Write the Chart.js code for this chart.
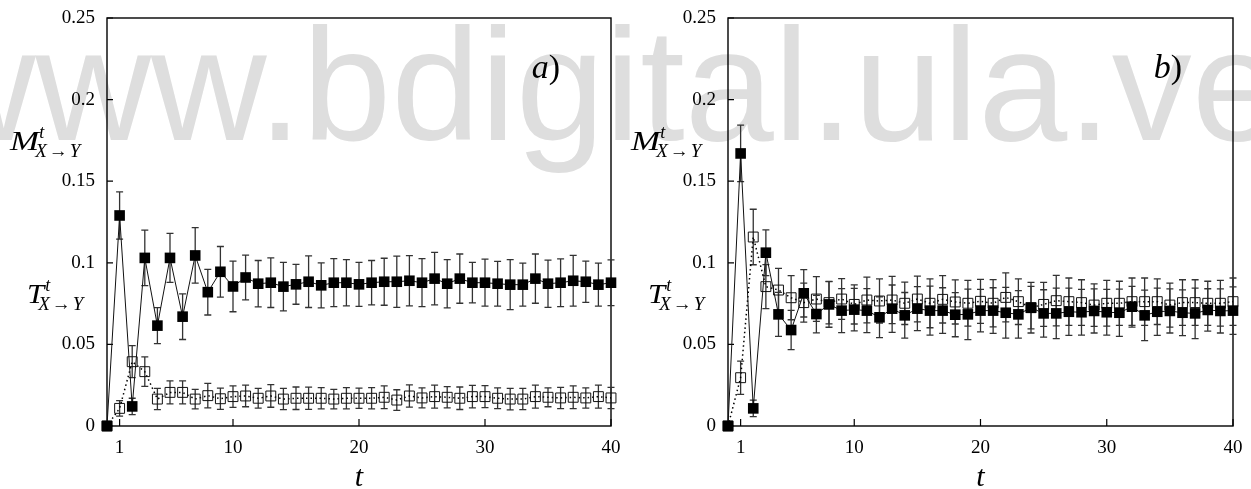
<!DOCTYPE html>
<html>
<head>
<meta charset="utf-8">
<script src="https://cdn.jsdelivr.net/npm/chart.js@4.4.1/dist/chart.umd.min.js"></script>
<style>
    body { margin: 0; background: #fff; }
    #wrap { position: relative; width: 1251px; height: 489px; overflow: hidden; }
    #mark {
        position: absolute; left: -80px; top: 5px;
        font: 160px/1 "Liberation Sans", Arial, sans-serif;
        color: #dedede; white-space: nowrap; z-index: 0;
    }
    canvas { position: absolute; top: 0; z-index: 1; }
    #chartA { left: 0; }
    #chartB { left: 625px; }
</style>
</head>
<body>
<div id="wrap">
    <div id="mark">www.bdigital.ula.ve</div>
    <canvas id="chartA" width="625" height="489"></canvas>
    <canvas id="chartB" width="626" height="489"></canvas>
</div>
<script>
// time steps t = 0..40
const timeSteps = Array.from({ length: 41 }, (_, i) => i);
const xTicks = [1, 10, 20, 30, 40];
const yTicks = [0, 0.05, 0.1, 0.15, 0.2, 0.25];

// panel a)
const mA = [0, 0.129, 0.012, 0.103, 0.0615, 0.103, 0.067, 0.1045, 0.082, 0.0945,
    0.0855, 0.091, 0.0872, 0.0878, 0.0854, 0.0868, 0.0884, 0.0862, 0.0878, 0.0878,
    0.0868, 0.0878, 0.0884, 0.0884, 0.089, 0.0878, 0.0903, 0.0872, 0.0903, 0.0878,
    0.0878, 0.0872, 0.0866, 0.0866, 0.0903, 0.0872, 0.0878, 0.089, 0.0884, 0.0866, 0.0878];
const mAErr = [0, 0.0145, 0.005, 0.017, 0.011, 0.015, 0.014, 0.017, 0.014, 0.0155,
    0.0155, 0.0137, 0.0142, 0.0152, 0.0148, 0.0122, 0.0158, 0.0138, 0.0147, 0.0142,
    0.0135, 0.0136, 0.0144, 0.0157, 0.0154, 0.0147, 0.0161, 0.0148, 0.0151, 0.0124,
    0.0144, 0.0137, 0.0153, 0.0132, 0.0151, 0.0145, 0.0146, 0.0155, 0.0126, 0.0132, 0.014];
const tA = [0, 0.0108, 0.0394, 0.0333, 0.0165, 0.0206, 0.0206, 0.0165, 0.0186, 0.0167,
    0.018, 0.0184, 0.017, 0.0184, 0.0165, 0.017, 0.017, 0.017, 0.0165, 0.017,
    0.017, 0.017, 0.0176, 0.0159, 0.0184, 0.0172, 0.018, 0.0176, 0.017, 0.018,
    0.018, 0.017, 0.0165, 0.0165, 0.018, 0.0176, 0.0172, 0.0176, 0.0172, 0.018, 0.0172];
const tAErr = [0, 0.0048, 0.0098, 0.009, 0.0065, 0.007, 0.007, 0.006, 0.0075, 0.0065,
    0.0066, 0.0066, 0.006, 0.0069, 0.0065, 0.0069, 0.0068, 0.0065, 0.006, 0.0065,
    0.0062, 0.0065, 0.007, 0.0063, 0.0068, 0.0061, 0.007, 0.0065, 0.0069, 0.0069,
    0.0068, 0.0063, 0.0066, 0.0065, 0.007, 0.0058, 0.0065, 0.007, 0.0062, 0.007, 0.0065];

// panel b)
const mB = [0, 0.167, 0.0108, 0.1062, 0.0684, 0.0588, 0.0813, 0.0686, 0.0745, 0.0707,
    0.0713, 0.0707, 0.0666, 0.0719, 0.0678, 0.0719, 0.0707, 0.0707, 0.0682, 0.0684,
    0.0707, 0.0707, 0.0694, 0.0684, 0.0725, 0.069, 0.069, 0.07, 0.0697, 0.0705,
    0.0697, 0.0694, 0.0731, 0.0678, 0.07, 0.0705, 0.0694, 0.069, 0.0711, 0.0705, 0.0707];
const mBErr = [0, 0.0173, 0.005, 0.014, 0.0135, 0.012, 0.0145, 0.0115, 0.014, 0.0135,
    0.013, 0.0135, 0.0125, 0.0145, 0.014, 0.0135, 0.015, 0.014, 0.0135, 0.0155,
    0.013, 0.014, 0.0155, 0.0145, 0.0155, 0.0145, 0.0155, 0.0145, 0.014, 0.0135,
    0.014, 0.0145, 0.0125, 0.0155, 0.0145, 0.0135, 0.014, 0.0155, 0.013, 0.0135, 0.0145];
const tB = [0, 0.0296, 0.1158, 0.0854, 0.0833, 0.0786, 0.0756, 0.0778, 0.0756, 0.0778,
    0.0745, 0.0772, 0.0766, 0.0772, 0.0752, 0.0778, 0.0752, 0.0776, 0.076, 0.0752,
    0.0764, 0.0752, 0.0788, 0.0762, 0.0725, 0.0745, 0.0768, 0.0762, 0.0756, 0.0741,
    0.0752, 0.0752, 0.0762, 0.0762, 0.0762, 0.0741, 0.0756, 0.0756, 0.0752, 0.0752, 0.0762];
const tBErr = [0, 0.0102, 0.017, 0.0135, 0.0133, 0.0135, 0.012, 0.0137, 0.013, 0.0125,
    0.012, 0.014, 0.0135, 0.0145, 0.013, 0.014, 0.015, 0.0145, 0.0135, 0.014,
    0.0135, 0.0145, 0.015, 0.014, 0.013, 0.0135, 0.0155, 0.0145, 0.014, 0.013,
    0.014, 0.0135, 0.0145, 0.0145, 0.014, 0.0135, 0.014, 0.014, 0.0135, 0.014, 0.0145];

const SERIF = '"Liberation Serif", "DejaVu Serif", serif';

function points(values) {
    return timeSteps.map((t, i) => ({ x: t, y: values[i] }));
}

// frame, inward ticks, error bars (under the markers)
const framePlugin = {
    id: 'frame',
    beforeDatasetsDraw(chart) {
        const ctx = chart.ctx;
        const a = chart.chartArea;
        const xs = chart.scales.x, ys = chart.scales.y;
        ctx.save();
        ctx.strokeStyle = '#000';
        ctx.lineWidth = 1.4;
        ctx.strokeRect(a.left, a.top, a.right - a.left, a.bottom - a.top);
        ctx.lineWidth = 1.2;
        ctx.beginPath();
        xTicks.forEach(v => {
            const px = xs.getPixelForValue(v);
            ctx.moveTo(px, a.bottom);
            ctx.lineTo(px, a.bottom - 7);
        });
        yTicks.forEach(v => {
            const py = ys.getPixelForValue(v);
            ctx.moveTo(a.left, py);
            ctx.lineTo(a.left + 6, py);
        });
        ctx.stroke();

        // error bars
        ctx.strokeStyle = '#333';
        ctx.lineWidth = 1.3;
        chart.data.datasets.forEach((ds, i) => {
            const meta = chart.getDatasetMeta(i);
            meta.data.forEach((pt, j) => {
                const e = ds.errors[j];
                if (!e) return;
                const v = ds.data[j].y;
                const top = ys.getPixelForValue(v + e);
                const bot = ys.getPixelForValue(v - e);
                ctx.beginPath();
                ctx.moveTo(pt.x, top);
                ctx.lineTo(pt.x, bot);
                ctx.moveTo(pt.x - 3.5, top);
                ctx.lineTo(pt.x + 3.5, top);
                ctx.moveTo(pt.x - 3.5, bot);
                ctx.lineTo(pt.x + 3.5, bot);
                ctx.stroke();
            });
        });
        ctx.restore();
    },
    afterDraw(chart, args, opts) {
        const ctx = chart.ctx;
        const a = chart.chartArea;
        ctx.save();
        ctx.fillStyle = '#000';
        ctx.textBaseline = 'alphabetic';

        // y labels: M^t_{X->Y} and T^t_{X->Y}
        opts.yLabels.forEach(lab => {
            const x = a.left + lab.dx;
            const base = lab.y;
            ctx.textAlign = 'left';
            ctx.save();
            ctx.translate(x, base);
            ctx.scale(lab.stretch, 1);
            ctx.font = 'italic 28px ' + SERIF;
            ctx.fillText(lab.letter, 0, 0);
            ctx.restore();
            ctx.font = 'italic 28px ' + SERIF;
            const w = ctx.measureText(lab.letter).width * lab.stretch;
            ctx.font = 'italic 18px ' + SERIF;
            ctx.fillText('t', x + w + lab.supDx, base - 12);
            let sx = x + w + lab.subDx;
            const sb = base + 7;
            ctx.font = 'italic 19px ' + SERIF;
            ctx.fillText('X', sx, sb);
            sx += ctx.measureText('X').width + 2;
            ctx.font = '19px ' + SERIF;
            ctx.fillText('\u2192', sx, sb);
            sx += ctx.measureText('\u2192').width + 2;
            ctx.font = 'italic 19px ' + SERIF;
            ctx.fillText('Y', sx, sb);
        });

        // panel label, e.g. a)
        ctx.textAlign = 'right';
        const rx = a.right - 51;
        ctx.font = '34px ' + SERIF;
        ctx.fillText(')', rx, 78);
        const pw = ctx.measureText(')').width;
        ctx.font = 'italic 34px ' + SERIF;
        ctx.fillText(opts.panel, rx - pw, 78);

        // x title
        ctx.textAlign = 'center';
        ctx.font = 'italic 30px ' + SERIF;
        ctx.fillText(opts.xTitle, (a.left + a.right) / 2, 486);
        ctx.restore();
    }
};

function makeChart(canvasId, mVals, mErr, tVals, tErr, panel, yWidth, padRight) {
    const ctx = document.getElementById(canvasId);
    return new Chart(ctx, {
        type: 'line',
        data: {
            datasets: [{
                label: 'M',
                data: points(mVals),
                errors: mErr,
                borderColor: '#111',
                borderWidth: 1,
                backgroundColor: '#000',
                pointStyle: 'rect',
                pointRadius: 7.5,
                pointBorderWidth: 0,
                pointBackgroundColor: '#000',
                clip: false,
                tension: 0
            }, {
                label: 'T',
                data: points(tVals),
                errors: tErr,
                borderColor: '#000',
                borderWidth: 1.5,
                borderDash: [1.5, 3],
                pointStyle: 'rect',
                pointRadius: 7,
                pointBorderWidth: 1,
                pointBorderColor: '#111',
                pointBackgroundColor: 'rgba(0,0,0,0)',
                clip: false,
                tension: 0
            }]
        },
        options: {
            responsive: false,
            animation: false,
            devicePixelRatio: 1,
            layout: { padding: { top: 18, right: padRight, left: 0, bottom: 0 } },
            plugins: {
                legend: { display: false },
                tooltip: { enabled: false },
                frame: {
                    panel: panel,
                    xTitle: 't',
                    yLabels: [
                        { letter: 'M', dx: -97, y: 150, stretch: 1.25, supDx: 0, subDx: -4 },
                        { letter: 'T', dx: -80, y: 303, stretch: 1.1, supDx: 1, subDx: -6 }
                    ]
                }
            },
            scales: {
                x: {
                    type: 'linear',
                    min: 0,
                    max: 40,
                    afterBuildTicks: scale => { scale.ticks = xTicks.map(v => ({ value: v })); },
                    afterFit: scale => { scale.height = 63; },
                    // ticks are drawn inward by the plugin; tickLength only spaces the labels
                    grid: { display: false, drawTicks: true, tickLength: 11 },
                    border: { display: false },
                    ticks: {
                        padding: 0,
                        color: '#000',
                        font: { family: SERIF, size: 19 },
                        maxRotation: 0,
                        autoSkip: false
                    }
                },
                y: {
                    min: 0,
                    max: 0.25,
                    afterBuildTicks: scale => { scale.ticks = yTicks.map(v => ({ value: v })); },
                    afterFit: scale => { scale.width = yWidth; },
                    grid: { display: false, drawTicks: true, tickLength: 12 },
                    border: { display: false },
                    ticks: {
                        padding: 0,
                        color: '#000',
                        font: { family: SERIF, size: 19 },
                        callback: v => String(+v.toFixed(2))
                    }
                }
            }
        },
        plugins: [framePlugin]
    });
}

makeChart('chartA', mA, mAErr, tA, tAErr, 'a', 107, 14);
makeChart('chartB', mB, mBErr, tB, tBErr, 'b', 103, 18);
</script>
</body>
</html>
